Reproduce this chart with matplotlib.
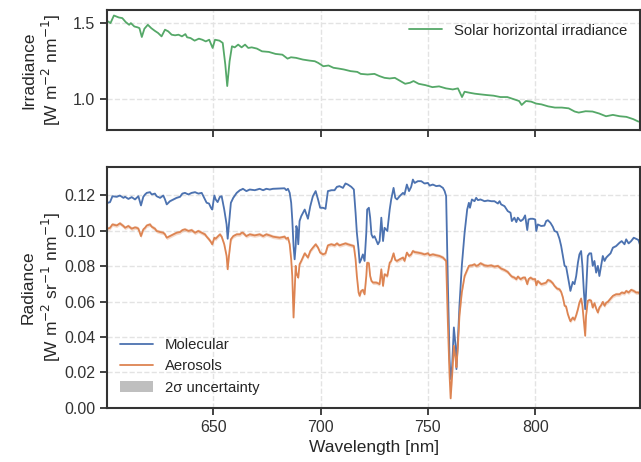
import numpy as np
import matplotlib
matplotlib.use("Agg")
import matplotlib.pyplot as plt
import seaborn as sns
from matplotlib.patches import Patch
from matplotlib.lines import Line2D

# solar horizontal irradiance [W m-2 nm-1]
irr_wl = [601.0, 602.1, 603.7, 606.0, 607.6, 609.2, 610.8, 611.6, 613.2, 614.8,
          615.6, 616.7, 617.9, 619.5, 621.1, 622.7, 624.3, 625.9, 627.5, 629.0,
          630.6, 632.2, 633.8, 635.4, 637.0, 637.8, 639.4, 641.3, 643.3, 644.9,
          646.5, 648.1, 649.7, 650.8, 652.9, 654.4, 655.6, 656.5, 657.6, 658.7,
          660.0, 661.6, 663.2, 664.8, 666.3, 667.9, 670.3, 672.7, 675.9, 679.0,
          682.2, 684.6, 686.2, 688.6, 691.7, 694.9, 697.3, 698.9, 701.3, 703.7,
          706.0, 708.4, 710.8, 714.0, 717.1, 718.7, 721.9, 725.1, 727.5, 729.8,
          732.2, 734.6, 737.8, 739.4, 741.7, 743.3, 745.7, 748.9, 752.1, 755.2,
          758.4, 761.6, 764.0, 765.9, 767.1, 769.5, 771.9, 774.3, 777.5, 780.6,
          783.8, 787.0, 790.2, 792.5, 793.7, 795.7, 798.1, 800.5, 802.9, 806.0,
          809.2, 812.4, 815.6, 818.4, 820.3, 823.5, 826.7, 829.8, 833.0, 836.2,
          839.4, 842.5, 845.7, 848.1]
irradiance = [1.511, 1.500, 1.550, 1.537, 1.533, 1.507, 1.489, 1.500, 1.478, 1.472,
              1.467, 1.409, 1.463, 1.489, 1.467, 1.450, 1.435, 1.413, 1.457, 1.446,
              1.424, 1.420, 1.424, 1.413, 1.428, 1.407, 1.402, 1.385, 1.398, 1.391,
              1.380, 1.391, 1.337, 1.391, 1.385, 1.370, 1.228, 1.087, 1.250, 1.348,
              1.341, 1.359, 1.341, 1.359, 1.337, 1.341, 1.333, 1.315, 1.311, 1.298,
              1.293, 1.267, 1.276, 1.272, 1.261, 1.254, 1.250, 1.239, 1.217, 1.222,
              1.207, 1.202, 1.196, 1.185, 1.180, 1.167, 1.163, 1.167, 1.152, 1.141,
              1.137, 1.141, 1.115, 1.102, 1.109, 1.120, 1.102, 1.093, 1.080, 1.085,
              1.072, 1.065, 1.072, 1.015, 1.050, 1.043, 1.037, 1.033, 1.028, 1.024,
              1.015, 1.015, 1.000, 0.989, 0.963, 0.989, 0.985, 0.972, 0.967, 0.954,
              0.946, 0.946, 0.941, 0.920, 0.913, 0.922, 0.920, 0.907, 0.889, 0.898,
              0.889, 0.885, 0.870, 0.854]

# simulated radiance [W m-2 sr-1 nm-1]
rad_wl = [600.8, 601.9, 603.0, 605.0, 606.5, 608.1, 608.9, 610.4, 612.0, 613.5,
          614.3, 615.1, 616.3, 617.4, 618.2, 619.0, 620.5, 621.3, 622.8, 623.6,
          625.2, 626.7, 627.5, 628.3, 629.8, 631.4, 632.9, 634.5, 635.6, 636.8,
          638.4, 639.9, 641.5, 643.0, 644.6, 646.1, 646.9, 648.0, 648.9, 649.5,
          650.5, 651.1, 652.0, 653.1, 653.9, 655.1, 656.2, 656.7, 657.3, 658.2,
          659.3, 660.9, 662.4, 663.2,
          663.8, 665.4, 667.0, 669.3, 671.6, 673.2, 674.7, 676.3, 677.8, 680.9,
          683.2, 684.0, 684.8, 685.6, 686.3, 686.8, 687.4, 687.9, 688.4, 688.7,
          689.1, 689.6, 690.2, 691.0, 692.6, 694.1, 695.2, 696.4, 697.7, 698.8,
          699.8, 701.1, 702.3, 703.4, 705.0, 706.5, 707.6, 708.8, 710.4, 711.6,
          712.7, 714.3, 715.5, 716.3, 716.9, 717.7, 718.2, 718.9, 719.7, 720.5,
          721.3, 721.7, 722.5, 723.1, 723.7, 724.4, 725.1, 725.9, 726.7, 727.5,
          728.3, 729.1, 729.8, 731.1, 732.2, 732.9, 734.0, 734.8, 735.6, 736.8,
          738.4, 739.1, 740.2, 741.2, 742.2, 743.0, 743.8, 745.3, 746.9, 748.4,
          750.0, 750.8, 752.3, 753.9, 755.4, 757.0, 757.8, 758.5, 759.3, 760.1,
          760.6, 761.3, 762.1, 762.9, 763.3, 764.0, 764.7, 765.8, 767.1, 768.3,
          769.1, 769.6, 770.5, 771.7, 772.5, 773.3, 774.5, 776.4, 777.9, 779.5,
          781.0, 782.6, 783.4, 784.1, 785.7, 787.2, 788.5, 789.1, 790.3,
          791.2, 791.9, 793.2, 794.3, 795.3, 796.3, 796.9, 797.8, 798.9, 800.0,
          800.5, 801.2, 802.8, 804.3, 805.1, 805.9, 807.1, 808.2, 809.0, 810.2,
          811.3, 812.1, 812.9, 813.7, 814.4, 815.2, 816.0, 816.4, 817.5, 818.3,
          819.1, 819.9, 820.6, 821.4, 822.0, 822.7, 823.3, 823.7, 824.5, 825.3,
          826.1, 826.8, 827.6, 828.4, 829.2, 829.9, 830.7, 831.5, 832.3, 833.1,
          833.8, 835.1, 836.2, 837.7, 839.3, 840.3, 841.6, 842.4, 843.5, 844.7,
          845.9, 847.0, 848.1, 849.0]
molecular = [0.1157, 0.1161, 0.1194, 0.1191, 0.1198, 0.1185, 0.1191, 0.1179, 0.1189, 0.1176,
             0.1185, 0.1194, 0.1142, 0.1191, 0.1204, 0.1213, 0.1217, 0.1204, 0.1209, 0.1194,
             0.1185, 0.1198, 0.1176, 0.1148, 0.1166, 0.1176, 0.1185, 0.1191, 0.1209, 0.1213,
             0.1204, 0.1213, 0.1217, 0.1209, 0.1213, 0.1176, 0.1157, 0.1153, 0.1129, 0.1119,
             0.1198, 0.1176, 0.1161, 0.1191, 0.1194, 0.1119, 0.1035, 0.0954, 0.1035, 0.1157,
             0.1185, 0.1213, 0.1228, 0.1232,
             0.1236, 0.1223, 0.1232, 0.1228, 0.1236, 0.1228, 0.1236, 0.1232, 0.1236, 0.1238,
             0.1239, 0.1228, 0.1236, 0.1213, 0.1157, 0.1063, 0.0913, 0.0838, 0.0913, 0.1026,
             0.1007, 0.0923, 0.1054, 0.1082, 0.1119, 0.1067, 0.1138, 0.1194, 0.1223, 0.1176,
             0.1129, 0.1129, 0.1123, 0.1223, 0.1228, 0.1228, 0.1247, 0.1251, 0.1241, 0.1266,
             0.1260, 0.1247, 0.1232, 0.1101, 0.0988, 0.0894, 0.0819, 0.0838, 0.0866, 0.0829,
             0.0988, 0.1119, 0.1129, 0.1073, 0.0979, 0.0960, 0.0969, 0.0947, 0.0923, 0.0941,
             0.1073, 0.0941, 0.1016, 0.0998, 0.1119, 0.1176, 0.1241, 0.1185, 0.1176, 0.1194,
             0.1213, 0.1204, 0.1260, 0.1223, 0.1247, 0.1288, 0.1269, 0.1279, 0.1279, 0.1266,
             0.1269, 0.1254, 0.1260, 0.1251, 0.1254, 0.1241, 0.1223, 0.1194, 0.0707, 0.0276,
             0.0163, 0.0238, 0.0454, 0.0351, 0.0219, 0.0388, 0.0576, 0.0801, 0.0988, 0.1119,
             0.1157, 0.1129, 0.1176, 0.1166, 0.1185, 0.1172, 0.1176, 0.1166, 0.1170, 0.1166,
             0.1166, 0.1153, 0.1166, 0.1148, 0.1138, 0.1110, 0.1101, 0.1054, 0.1073,
             0.1048, 0.1073, 0.1054, 0.1063, 0.1086, 0.1003, 0.1063, 0.1067, 0.1067, 0.1063,
             0.0998, 0.1035, 0.1026, 0.1029, 0.1054, 0.1059, 0.1044, 0.1022, 0.0998, 0.0992,
             0.0954, 0.0913, 0.0857, 0.0801, 0.0797, 0.0744, 0.0688, 0.0660, 0.0711, 0.0698,
             0.0744, 0.0819, 0.0866, 0.0885, 0.0801, 0.0651, 0.0557, 0.0651, 0.0857, 0.0872,
             0.0872, 0.0801, 0.0829, 0.0763, 0.0801, 0.0744, 0.0801, 0.0857, 0.0829, 0.0848,
             0.0857, 0.0872, 0.0904, 0.0913, 0.0932, 0.0941, 0.0923, 0.0951, 0.0928, 0.0941,
             0.0960, 0.0954, 0.0947, 0.0913]
aerosols = [0.1011, 0.1016, 0.1035, 0.1029, 0.1041, 0.1026, 0.1016, 0.1026, 0.1011, 0.1018,
            0.1016, 0.1011, 0.0969, 0.1007, 0.1016, 0.1029, 0.1035, 0.1022, 0.1011, 0.0998,
            0.0992, 0.0988, 0.0979, 0.0960, 0.0969, 0.0979, 0.0988, 0.0992, 0.1003, 0.1007,
            0.0998, 0.1003, 0.0988, 0.0998, 0.0988, 0.0979, 0.0966, 0.0951, 0.0936, 0.0923,
            0.0960, 0.0954, 0.0966, 0.0979, 0.0966, 0.0923, 0.0857, 0.0782, 0.0857, 0.0951,
            0.0969, 0.0979, 0.0979, 0.0988,
            0.0988, 0.0969, 0.0979, 0.0973, 0.0979, 0.0969, 0.0979, 0.0973, 0.0966, 0.0960,
            0.0966, 0.0954, 0.0960, 0.0923, 0.0838, 0.0744, 0.0510, 0.0651, 0.0801, 0.0763,
            0.0748, 0.0735, 0.0810, 0.0829, 0.0872, 0.0848, 0.0885, 0.0904, 0.0923, 0.0904,
            0.0876, 0.0866, 0.0872, 0.0917, 0.0923, 0.0917, 0.0928, 0.0917, 0.0923, 0.0928,
            0.0923, 0.0917, 0.0913, 0.0838, 0.0744, 0.0651, 0.0632, 0.0660, 0.0666, 0.0641,
            0.0744, 0.0819, 0.0816, 0.0744, 0.0716, 0.0707, 0.0707, 0.0707, 0.0703, 0.0698,
            0.0782, 0.0688, 0.0754, 0.0744, 0.0819, 0.0829, 0.0872, 0.0834, 0.0829, 0.0838,
            0.0848, 0.0829, 0.0876, 0.0857, 0.0866, 0.0885, 0.0879, 0.0876, 0.0872, 0.0866,
            0.0872, 0.0861, 0.0866, 0.0861, 0.0857, 0.0848, 0.0838, 0.0829, 0.0482, 0.0182,
            0.0054, 0.0182, 0.0351, 0.0276, 0.0229, 0.0351, 0.0519, 0.0651, 0.0744, 0.0778,
            0.0801, 0.0803, 0.0804, 0.0810, 0.0801, 0.0804, 0.0816, 0.0804, 0.0801, 0.0804,
            0.0797, 0.0801, 0.0793, 0.0786, 0.0778, 0.0767, 0.0748, 0.0741, 0.0735,
            0.0726, 0.0741, 0.0726, 0.0735, 0.0735, 0.0698, 0.0726, 0.0735, 0.0726, 0.0726,
            0.0692, 0.0716, 0.0698, 0.0703, 0.0707, 0.0722, 0.0716, 0.0703, 0.0688, 0.0673,
            0.0669, 0.0654, 0.0623, 0.0576, 0.0572, 0.0529, 0.0501, 0.0489, 0.0510, 0.0497,
            0.0523, 0.0557, 0.0594, 0.0617, 0.0576, 0.0482, 0.0407, 0.0519, 0.0604, 0.0609,
            0.0604, 0.0566, 0.0591, 0.0561, 0.0538, 0.0566, 0.0579, 0.0598, 0.0576, 0.0594,
            0.0598, 0.0617, 0.0632, 0.0641, 0.0641, 0.0651, 0.0647, 0.0660, 0.0651, 0.0666,
            0.0660, 0.0651, 0.0651, 0.0641]

# half-width of the 2-sigma band
mol_2sigma = 0.0003
aer_2sigma = 0.0011

sns.set_theme(style="ticks")
plt.rcParams['font.family'] = ['Liberation Sans', 'DejaVu Sans']
plt.rcParams['axes.edgecolor'] = '#333333'
plt.rcParams['axes.linewidth'] = 1.5
plt.rcParams['xtick.color'] = '#333333'
plt.rcParams['ytick.color'] = '#333333'
plt.rcParams['text.color'] = '#262626'
plt.rcParams['axes.labelcolor'] = '#262626'

pal = sns.color_palette("deep")
c_mol, c_aer, c_irr = pal[0], pal[1], pal[2]

fig = plt.figure(figsize=(6.41, 4.62), dpi=100)
ax1 = fig.add_axes([0.167, 0.719, 0.832, 0.259])
ax2 = fig.add_axes([0.167, 0.117, 0.832, 0.522])

grid_kw = dict(color='#e3e3e3', linestyle='--', linewidth=1.0)

ax1.plot(irr_wl, irradiance, color=c_irr, lw=1.3, label='Solar horizontal irradiance')
ax1.set_xlim(600.5, 849)
ax1.set_ylim(0.80, 1.585)
ax1.set_yticks([1.0, 1.5])
ax1.set_xticks([650, 700, 750, 800])
ax1.set_xticklabels([])
ax1.grid(True, **grid_kw)
ax1.set_ylabel('Irradiance\n[W m$^{-2}$ nm$^{-1}$]', fontsize=12.5)
ax1.legend(loc='upper right', frameon=False, fontsize=10.7, handlelength=2.2)

wl = np.array(rad_wl)
mol = np.array(molecular)
aer = np.array(aerosols)
ax2.fill_between(wl, mol - mol_2sigma, mol + mol_2sigma, color=c_mol, alpha=0.3, lw=0)
ax2.fill_between(wl, aer - aer_2sigma, aer + aer_2sigma, color=c_aer, alpha=0.3, lw=0)
ax2.plot(wl, mol, color=c_mol, lw=1.3)
ax2.plot(wl, aer, color=c_aer, lw=1.3)
ax2.set_xlim(600.5, 849)
ax2.set_ylim(0, 0.136)
ax2.set_yticks(np.arange(0, 0.121, 0.02))
ax2.set_xticks([650, 700, 750, 800])
ax2.grid(True, **grid_kw)
ax2.set_xlabel('Wavelength [nm]', fontsize=12.5)
ax2.set_ylabel('Radiance\n[W m$^{-2}$ sr$^{-1}$ nm$^{-1}$]', fontsize=12.5)

handles = [Line2D([], [], color=c_mol, lw=1.3),
           Line2D([], [], color=c_aer, lw=1.3),
           Patch(facecolor='#bfbfbf', edgecolor='none')]
ax2.legend(handles, ['Molecular', 'Aerosols', '2σ uncertainty'],
           loc='lower left', frameon=False, fontsize=10.7, handlelength=2.2)

for ax in (ax1, ax2):
    ax.tick_params(labelsize=11.5, length=5, width=1.3)
    ax.yaxis.set_label_coords(-0.083, 0.5)

fig.savefig('out.png', dpi=100)
